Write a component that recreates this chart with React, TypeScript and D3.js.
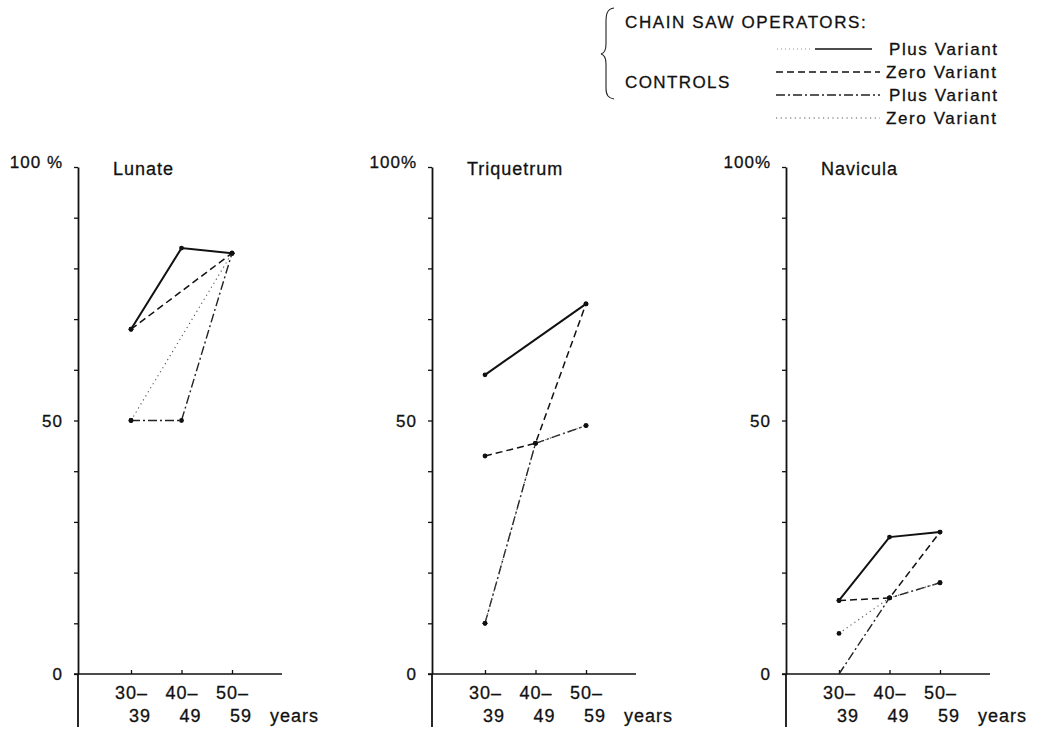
import React, { useEffect, useRef } from 'react';
import * as d3 from 'd3';

// age groups (two-line labels)
const categories = ['30–', '40–', '50–'];
const categoryLower = ['39', '49', '59'];
const panelNames = ['Lunate', 'Triquetrum', 'Navicula'];
const topLabels = ['100 %', '100%', '100%'];

// percent values per panel (Lunate, Triquetrum, Navicula); null = no point
const chainSawPlus: (number | null)[][] = [[68, 84, 83], [59, null, 73], [14.5, 27, 28]];
const chainSawZero: (number | null)[][] = [[68, null, 83], [43, 45.5, 73], [14.5, 15, 28]];
const controlsPlus: (number | null)[][] = [[50, 50, 83], [10, 45.5, 49], [0, 15, 18]];
const controlsZero: (number | null)[][] = [[50, null, 83], [10, 45.5, 49], [8, 15, 18]];

const legendLabels = ['Plus Variant', 'Zero Variant', 'Plus Variant', 'Zero Variant'];

const FONT = '"Liberation Sans", Arial, Helvetica, sans-serif';

const App = () => {
  const svgRef = useRef<SVGSVGElement>(null);

  useEffect(() => {
    const svg = d3.select(svgRef.current)
      .attr('width', 1043)
      .attr('height', 730);
    svg.selectAll('*').remove();

    const styles = [
      { data: chainSawPlus, dash: null, width: 2, color: '#111' },
      { data: chainSawZero, dash: '7,4', width: 1.5, color: '#111' },
      { data: controlsPlus, dash: '9,3,2,3', width: 1.4, color: '#222' },
      { data: controlsZero, dash: '1.2,3.5', width: 1.1, color: '#555' },
    ];

    const axisX = [78, 432, 786];

    panelNames.forEach((name, i) => {
      const ox = axisX[i];
      const x = d3.scalePoint().domain(categories).range([ox + 53, ox + 154]);
      const y = d3.scaleLinear().domain([0, 100]).range([674, 167]);
      const g = svg.append('g');

      // y axis
      const yAxis = g.append('g')
        .attr('transform', `translate(${ox},0)`)
        .call(d3.axisLeft(y)
          .tickValues(d3.range(0, 101, 10))
          .tickSizeInner(4)
          .tickSizeOuter(0)
          .tickPadding(11)
          .tickFormat(d => (d === 0 ? '0' : d === 50 ? '50' : d === 100 ? topLabels[i] : '')));
      yAxis.select('.domain').attr('stroke', '#111').attr('stroke-width', 1.8);
      yAxis.selectAll('.tick line').attr('stroke', '#111').attr('stroke-width', 1.3);
      yAxis.selectAll('.tick text')
        .attr('fill', '#111')
        .attr('stroke', '#111')
        .attr('stroke-width', 0.3)
        .style('font-family', FONT)
        .style('font-size', '17px')
        .style('letter-spacing', '1px')
        .attr('dy', (d: any) => (d === 100 ? '0em' : '0.35em'));
      // axis continues below zero
      g.append('line')
        .attr('x1', ox).attr('x2', ox)
        .attr('y1', y(0)).attr('y2', 727)
        .attr('stroke', '#111').attr('stroke-width', 1.8);

      // x axis
      g.append('line')
        .attr('x1', ox - 4).attr('x2', ox + 204)
        .attr('y1', y(0)).attr('y2', y(0))
        .attr('stroke', '#111').attr('stroke-width', 1.5);
      const xAxis = g.append('g')
        .attr('transform', `translate(0,${y(0)})`)
        .call(d3.axisBottom(x).tickSize(-4).tickFormat(() => ''));
      xAxis.select('.domain').remove();
      xAxis.selectAll('.tick line').attr('stroke', '#111').attr('stroke-width', 1.3);

      const labels = g.append('g').attr('class', 'labels');
      categories.forEach((c, k) => {
        labels.append('text')
          .attr('x', (x(c) as number) - 16)
          .attr('y', 699)
          .text(c);
        labels.append('text')
          .attr('x', (x(c) as number) - 2)
          .attr('y', 722)
          .text(categoryLower[k]);
      });
      labels.append('text')
        .attr('x', (x(categories[2]) as number) + 38)
        .attr('y', 722)
        .text('years');

      // panel title
      labels.append('text')
        .attr('x', ox + 35)
        .attr('y', 175)
        .text(name);

      labels.selectAll('text')
        .attr('fill', '#111')
        .attr('stroke', '#111')
        .attr('stroke-width', 0.3)
        .style('font-family', FONT)
        .style('font-size', '18px')
        .style('letter-spacing', '1px');

      // series lines
      styles.forEach(s => {
        const pts = s.data[i]
          .map((v, k) => ({ c: categories[k], v }))
          .filter(p => p.v !== null) as { c: string; v: number }[];
        const line = d3.line<{ c: string; v: number }>()
          .x(p => x(p.c) as number)
          .y(p => y(p.v));
        g.append('path')
          .attr('d', line(pts))
          .attr('fill', 'none')
          .attr('stroke', s.color)
          .attr('stroke-width', s.width)
          .attr('stroke-dasharray', s.dash);
        g.selectAll(null)
          .data(pts.filter(p => p.v > 0))
          .enter()
          .append('circle')
          .attr('cx', p => x(p.c) as number)
          .attr('cy', p => y(p.v))
          .attr('r', 2.4)
          .attr('fill', '#111');
      });
    });

    // legend
    const lg = svg.append('g');
    lg.append('path')
      .attr('d', 'M614,8 C607,9 606,14 606,22 L606,44 C606,50 605,53 601,54 C605,55 606,58 606,64 L606,88 C606,95 608,98 614,99')
      .attr('fill', 'none')
      .attr('stroke', '#222')
      .attr('stroke-width', 1.1);
    lg.append('text').attr('x', 625).attr('y', 28).text('CHAIN SAW OPERATORS:')
      .style('letter-spacing', '1.6px');
    lg.append('text').attr('x', 625).attr('y', 88).text('CONTROLS')
      .style('letter-spacing', '1.4px');

    const rowY = [49, 72, 95, 118];
    const textX = [889, 886, 889, 886];
    styles.forEach((s, k) => {
      if (k === 0) {
        lg.append('line')
          .attr('x1', 777).attr('x2', 812)
          .attr('y1', rowY[k]).attr('y2', rowY[k])
          .attr('stroke', '#777').attr('stroke-width', 0.8)
          .attr('stroke-dasharray', '1,3');
        lg.append('line')
          .attr('x1', 815).attr('x2', 872)
          .attr('y1', rowY[k]).attr('y2', rowY[k])
          .attr('stroke', s.color).attr('stroke-width', 1.3);
      } else {
        lg.append('line')
          .attr('x1', 776).attr('x2', 880)
          .attr('y1', rowY[k]).attr('y2', rowY[k])
          .attr('stroke', s.color).attr('stroke-width', k === 3 ? 1 : 1.3)
          .attr('stroke-dasharray', s.dash);
      }
      lg.append('text')
        .attr('x', textX[k])
        .attr('y', rowY[k] + 6)
        .text(legendLabels[k])
        .style('letter-spacing', '1.6px');
    });
    lg.selectAll('text')
      .attr('fill', '#111')
      .attr('stroke', '#111')
      .attr('stroke-width', 0.3)
      .style('font-family', FONT)
      .style('font-size', '17px');
  }, []);

  return (
    <svg
      ref={svgRef}
      style={{ position: 'absolute', left: 0, top: 0, background: '#fff' }}
    ></svg>
  );
};

export default App;
